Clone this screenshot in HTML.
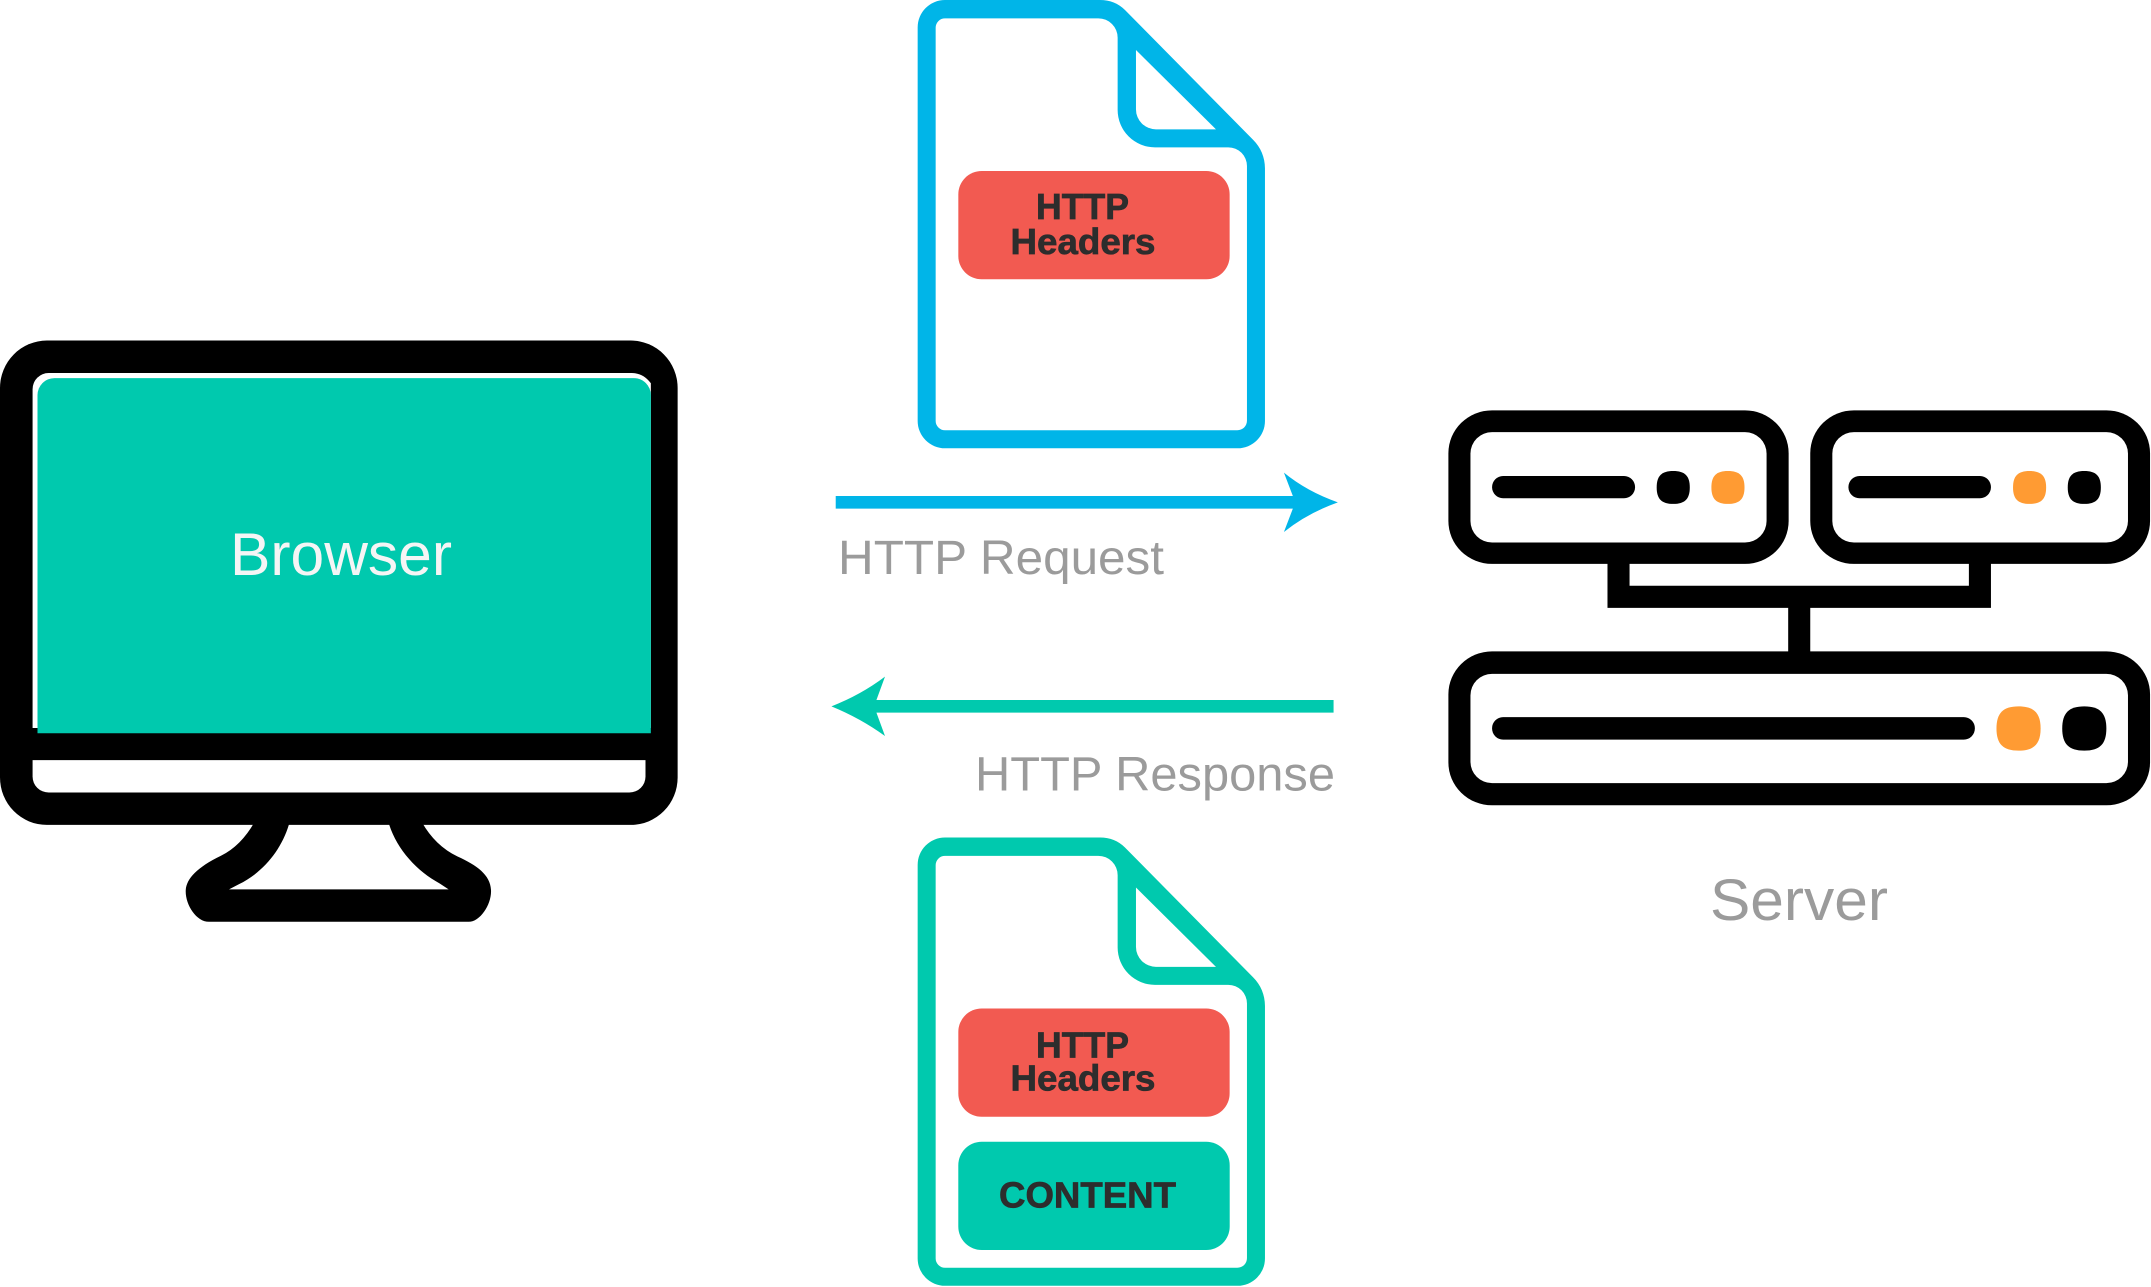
<!DOCTYPE html>
<html lang="en">
<head>
<meta charset="utf-8">
<title>HTTP Request and Response</title>
<style>
html,body{margin:0;padding:0;background:#fff;width:2151px;height:1287px;overflow:hidden}
svg{display:block}
text{font-family:"Liberation Sans",sans-serif}
.h{font-weight:700;font-size:36px;fill:#2d2d2d;stroke:#2d2d2d;stroke-width:.7px}
.g{font-size:48px;fill:#9b9b9b}
</style>
</head>
<body>
<svg xmlns="http://www.w3.org/2000/svg" width="2151" height="1287" viewBox="0 0 2151 1287">
<defs>
<g id="doc">
<path d="M135,0 H600 C630,0 655,10 675,30 L1060,420 C1082,442 1095,472 1095,505 V1263 A82,82 0 0 1 1013,1345 H135 A82,82 0 0 1 53,1263 V82 A82,82 0 0 1 135,0 Z"/>
<path fill="#fff" d="M135,55 H595 A58,58 0 0 1 653,113 V330 A112,112 0 0 0 765,442 H985 A56,56 0 0 1 1041,498 V1262 A29,29 0 0 1 1012,1291 H135 A28,28 0 0 1 107,1263 V83 A28,28 0 0 1 135,55 Z"/>
<path fill="#fff" d="M708,150 L948,388 H768 A60,60 0 0 1 708,328 Z"/>
<rect x="175" y="513" width="814" height="325" rx="70" ry="70" fill="#f25a51"/>
</g>
<path id="dot" d="M0,-1 C.7,-1 1,-.7 1,0 C1,.7 .7,1 0,1 C-.7,1 -1,.7 -1,0 C-1,-.7 -.7,-1 0,-1 Z"/>
</defs>

<!-- Monitor -->
<g transform="translate(0,320) scale(.4464,.3954)">
<path d="M570,1270 Q540,1330 495,1355 C440,1385 416,1415 416,1445 C416,1480 440,1522 468,1522 H1050 C1075,1522 1100,1480 1100,1445 C1100,1405 1070,1380 1025,1357 Q975,1330 945,1270 Z"/>
<rect x="0" y="52" width="1518" height="1225" rx="105" ry="120"/>
<path fill="#fff" d="M647,1277 H872 C890,1340 935,1395 985,1425 L1005,1440 H513 L535,1427 C590,1397 630,1340 647,1277 Z"/>
<path fill="#fff" d="M73,1032 V175 A36,41 0 0 1 109,134 H1415 C1435,134 1448,145 1458,160 V1032 Z"/>
<path fill="#00c9ae" d="M84,1045 V190 A38,43 0 0 1 122,147 H1420 A38,43 0 0 1 1458,190 V1045 Z"/>
<path fill="#fff" d="M73,1113 H1446 V1155 A36,40 0 0 1 1410,1195 H109 A36,40 0 0 1 73,1155 Z"/>
</g>
<text x="230" y="575" font-size="60" fill="#f5f5f5" textLength="222" lengthAdjust="spacingAndGlyphs">Browser</text>

<!-- Request document -->
<g transform="translate(900,0) scale(.3333)" fill="#00b5e8"><use href="#doc"/></g>
<text class="h" x="1036" y="219" textLength="93" lengthAdjust="spacingAndGlyphs">HTTP</text>
<text class="h" x="1010.5" y="254" textLength="145" lengthAdjust="spacingAndGlyphs">Headers</text>

<!-- Response document -->
<g transform="translate(900,837.5) scale(.3333)" fill="#00c9ae"><use href="#doc"/></g>
<text class="h" x="1036" y="1057.5" textLength="93" lengthAdjust="spacingAndGlyphs">HTTP</text>
<text class="h" x="1010.5" y="1090.5" textLength="145" lengthAdjust="spacingAndGlyphs">Headers</text>
<rect x="958.3" y="1141.7" width="271.4" height="108.3" rx="23.5" ry="23.5" fill="#00c9ae"/>
<text class="h" x="999" y="1207.5" textLength="177" lengthAdjust="spacingAndGlyphs">CONTENT</text>

<!-- Arrows -->
<g transform="translate(800,460) scale(.35714,.33333)">
<path fill="#00b5e8" d="M100,108 H1380 L1355,38 Q1420,95 1506,127 Q1420,160 1355,216 L1380,146 H100 Z"/>
<path fill="#00c9ae" d="M1494,720 H214 L238,650 Q170,705 88,739 Q170,775 238,828 L214,758 H1494 Z"/>
</g>
<text class="g" x="838" y="574" textLength="326" lengthAdjust="spacingAndGlyphs">HTTP Request</text>
<text class="g" x="975" y="790.5" textLength="360" lengthAdjust="spacingAndGlyphs">HTTP Response</text>

<!-- Server -->
<g transform="translate(1430,390) scale(.4598,.3571)">
<path d="M386,480 H434 V548 H1172 V480 H1220 V610 H827 V740 H779 V610 H386 Z"/>
<rect x="40" y="57" width="740" height="430" rx="95" ry="120"/>
<rect x="88" y="118" width="644" height="309" rx="47" ry="60" fill="#fff"/>
<rect x="827" y="57" width="739" height="430" rx="95" ry="120"/>
<rect x="875" y="118" width="643" height="309" rx="47" ry="60" fill="#fff"/>
<rect x="40" y="732" width="1526" height="431" rx="95" ry="120"/>
<rect x="88" y="795" width="1430" height="306" rx="47" ry="60" fill="#fff"/>
<rect x="135" y="241" width="311" height="62" rx="24" ry="31"/>
<use href="#dot" transform="translate(529,273) scale(36,46)"/>
<use href="#dot" transform="translate(648,273) scale(36,46)" fill="#ff9b33"/>
<rect x="910" y="241" width="310" height="62" rx="24" ry="31"/>
<use href="#dot" transform="translate(1304,273) scale(36,46)" fill="#ff9b33"/>
<use href="#dot" transform="translate(1423,273) scale(36,46)"/>
<rect x="135" y="916" width="1050" height="63" rx="24" ry="31"/>
<use href="#dot" transform="translate(1280,948) scale(48,62)" fill="#ff9b33"/>
<use href="#dot" transform="translate(1423,948) scale(48,62)"/>
</g>
<text x="1710" y="920" font-size="58" fill="#9b9b9b" textLength="178" lengthAdjust="spacingAndGlyphs">Server</text>
</svg>
</body>
</html>
